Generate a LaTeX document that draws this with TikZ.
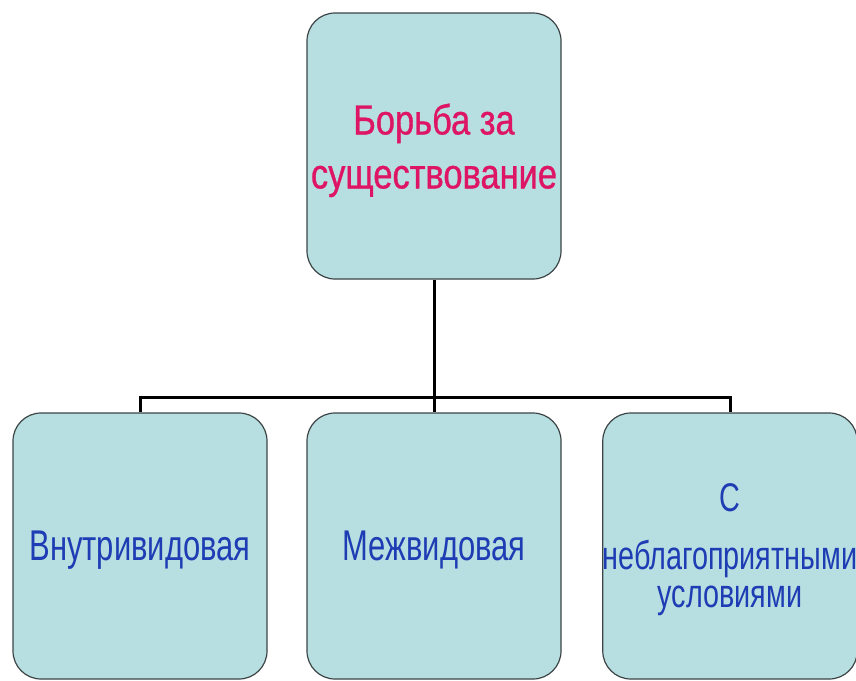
\documentclass[tikz,border=0pt]{standalone}
\usepackage{fontspec}
\usepackage{tikz}
\newfontfamily\titlefont[FakeStretch=0.82,FakeBold=0.8]{Liberation Sans}
\newfontfamily\kindfont[FakeStretch=0.72]{Liberation Sans}
\definecolor{boxfill}{HTML}{B7DEE0}
\definecolor{boxline}{HTML}{3C4446}
\definecolor{titlepink}{HTML}{DE1464}
\definecolor{kindblue}{HTML}{1E3CB4}

\begin{document}
\begin{tikzpicture}[x=1pt,y=-1pt,
	card/.style={draw=boxline,line width=1.2pt,fill=boxfill,rounded corners=28pt,
		minimum width=254pt,minimum height=266pt,inner sep=0pt,align=center,text depth=0pt},
	kind/.style={card,text=kindblue,font=\kindfont\fontsize{43}{46}\selectfont},
	link/.style={draw=black,line width=3pt}]
	\useasboundingbox (0,0) rectangle (856,680);
	\node[card,text=titlepink,font=\titlefont\fontsize{42}{54}\selectfont] (top) at (434,146) {Борьба за\\существование};
	\node[kind] (intra) at (140,546) {Внутривидовая};
	\node[kind] (inter) at (434,546) {Межвидовая};
	\node[kind,font=\kindfont\fontsize{40}{38}\selectfont] (cond) at (730,546) {С\\[20pt]неблагоприятными\\условиями};
	\coordinate (split) at (434,397);
	\draw[link] (top.south) -- (split);
	\draw[link] (intra.north) |- (split) -| (cond.north);
	\draw[link] (inter.north) -- (split);
\end{tikzpicture}
\end{document}
